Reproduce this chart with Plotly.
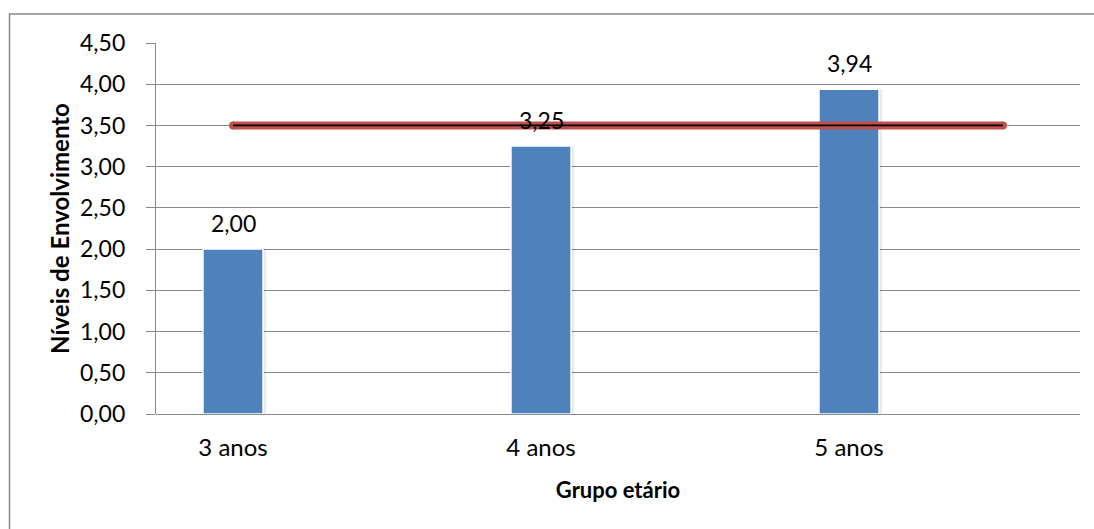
import plotly.graph_objects as go

categories = ["3 anos", "4 anos", "5 anos"]
values = [2.00, 3.25, 3.94]
reference_value = 3.5
y_ticks = [0, 0.5, 1.0, 1.5, 2.0, 2.5, 3.0, 3.5, 4.0, 4.5]

FONT = "Lato"
bar_offset = 0.25
x_pos = [i + bar_offset for i in range(len(categories))]
line_x = [x_pos[0], x_pos[-1] + 0.5]
line_y = [reference_value, reference_value]

fig = go.Figure()

# soft shadow under bars
fig.add_trace(go.Bar(
    x=[x + 0.008 for x in x_pos], y=values, width=0.2,
    marker=dict(color="rgba(0,0,0,0.08)", line=dict(width=0)),
    hoverinfo="skip", showlegend=False,
))
fig.add_trace(go.Bar(
    x=x_pos, y=values, width=0.195,
    marker=dict(color="#4F81BD", line=dict(color="white", width=1.5)),
    showlegend=False,
))
fig.add_trace(go.Scatter(
    x=line_x, y=line_y, mode="lines+markers",
    line=dict(color="#C0504D", width=8),
    marker=dict(color="#C0504D", size=8),
    showlegend=False, hoverinfo="skip",
))
fig.add_trace(go.Scatter(
    x=line_x, y=line_y, mode="lines",
    line=dict(color="black", width=1.8),
    showlegend=False, hoverinfo="skip",
))

annotations = [
    dict(x=x, y=v, text=f"{v:.2f}".replace(".", ","), showarrow=False,
         xref="x", yref="y", yanchor="middle", yshift=26,
         font=dict(family=FONT, size=23, color="black"))
    for x, v in zip(x_pos, values)
]

fig.update_layout(
    width=1094, height=529,
    margin=dict(l=156, r=14, t=43, b=115),
    paper_bgcolor="white", plot_bgcolor="white",
    separators=",.",
    barmode="overlay",
    font=dict(family=FONT, size=23, color="black"),
    annotations=annotations,
    xaxis=dict(
        range=[0, 3], tickmode="array", tickvals=x_pos, ticktext=categories,
        showgrid=False, zeroline=False, showline=False, ticks="",
        ticklabelstandoff=17,
        tickfont=dict(family=FONT, size=24, color="black"),
        title=dict(text="<b>Grupo etário</b>", font=dict(family=FONT, size=22, color="black"), standoff=22),
        fixedrange=True,
    ),
    yaxis=dict(
        range=[0, 4.5], tickmode="array", tickvals=y_ticks, tickformat=".2f",
        showgrid=True, gridcolor="#898989", gridwidth=1.3,
        zeroline=True, zerolinecolor="#898989", zerolinewidth=1.3,
        showline=True, linecolor="#898989", linewidth=1.3,
        ticks="outside", ticklen=9, tickcolor="#898989", tickwidth=1.3,
        ticklabelstandoff=16,
        tickfont=dict(family=FONT, size=23, color="black"),
        title=dict(text="<b>Níveis de Envolvimento</b>", font=dict(family=FONT, size=24, color="black"), standoff=3),
        fixedrange=True,
    ),
    shapes=[dict(
        type="rect", xref="paper", yref="paper",
        x0=(9.5 - 156) / 924, x1=(1110 - 156) / 924,
        y0=(414 - 560) / 371, y1=(414 - 14) / 371,
        line=dict(color="#878787", width=1.5), fillcolor="rgba(0,0,0,0)", layer="below",
    )],
)

fig.write_html("out.html")
